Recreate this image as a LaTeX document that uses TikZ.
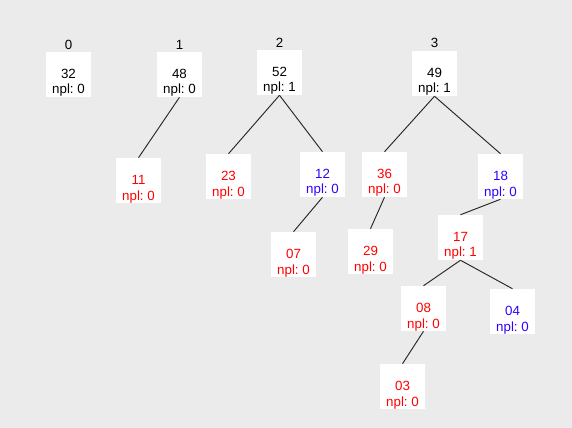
\documentclass[tikz,border=0pt]{standalone}
\usepackage{fontspec}
\setmainfont{Liberation Sans}
\frenchspacing
\definecolor{canvas}{RGB}{235,235,235}
\definecolor{heapred}{RGB}{255,0,0}
\definecolor{heapblue}{RGB}{51,0,255}
\tikzset{
  keybox/.style={fill=white, draw=none, minimum width=33.75pt, minimum height=33.75pt, inner sep=0pt},
  keytext/.style={anchor=base, inner sep=0pt, font=\fontsize{10}{12}\selectfont},
  treeindex/.style={anchor=base, inner sep=0pt, font=\fontsize{10}{12}\selectfont},
  link/.style={draw=black!85, line width=0.7pt}
}
% \heapkey{name}{x}{y}{key}{npl}{colour}
\newcommand\heapkey[6]{%
  \node[keybox] (#1) at (#2,#3) {};
  \node[keytext, text=#6] (#1-key) at (#2,#3+4) {#4};
  \node[keytext, text=#6] (#1-npl) at (#2,#3+19.5) {npl: #5};
}
\begin{document}
\begin{tikzpicture}[x=0.75pt,y=-0.75pt]
  \fill[canvas] (0,0) rectangle (572,428);
  \useasboundingbox (0,0) rectangle (572,428);

  % roots of the four trees
  \heapkey{n32}{68.5}{74.5}{32}{0}{black}
  \heapkey{n48}{179.5}{74.5}{48}{0}{black}
  \heapkey{n52}{279.5}{72.5}{52}{1}{black}
  \heapkey{n49}{434.5}{73.5}{49}{1}{black}

  % tree indices
  \node[treeindex] (t0) at (68.5,49.3) {0};
  \node[treeindex] (t1) at (179.5,49.3) {1};
  \node[treeindex] (t2) at (279.5,47.3) {2};
  \node[treeindex] (t3) at (434.5,48.0) {3};

  % descendants
  \heapkey{n11}{138.5}{180.5}{11}{0}{heapred}
  \heapkey{n23}{228.5}{176.5}{23}{0}{heapred}
  \heapkey{n12}{322.5}{174.5}{12}{0}{heapblue}
  \heapkey{n07}{293.5}{254.5}{07}{0}{heapred}
  \heapkey{n36}{384.5}{174.5}{36}{0}{heapred}
  \heapkey{n18}{500.5}{176.5}{18}{0}{heapblue}
  \heapkey{n29}{370.5}{251.5}{29}{0}{heapred}
  \heapkey{n17}{460.5}{237.5}{17}{1}{heapred}
  \heapkey{n08}{423.5}{308.5}{08}{0}{heapred}
  \heapkey{n04}{512.5}{311.5}{04}{0}{heapblue}
  \heapkey{n03}{402.5}{386.5}{03}{0}{heapred}

  % parent-child links
  \draw[link] (n48.south) -- (n11.north);
  \draw[link] (n52.south) -- (n23.north);
  \draw[link] (n52.south) -- (n12.north);
  \draw[link] (n12.south) -- (n07.north);
  \draw[link] (n49.south) -- (n36.north);
  \draw[link] (n49.south) -- (n18.north);
  \draw[link] (n36.south) -- (n29.north);
  \draw[link] (n18.south) -- (n17.north);
  \draw[link] (n17.south) -- (n08.north);
  \draw[link] (n17.south) -- (n04.north);
  \draw[link] (n08.south) -- (n03.north);
\end{tikzpicture}
\end{document}
